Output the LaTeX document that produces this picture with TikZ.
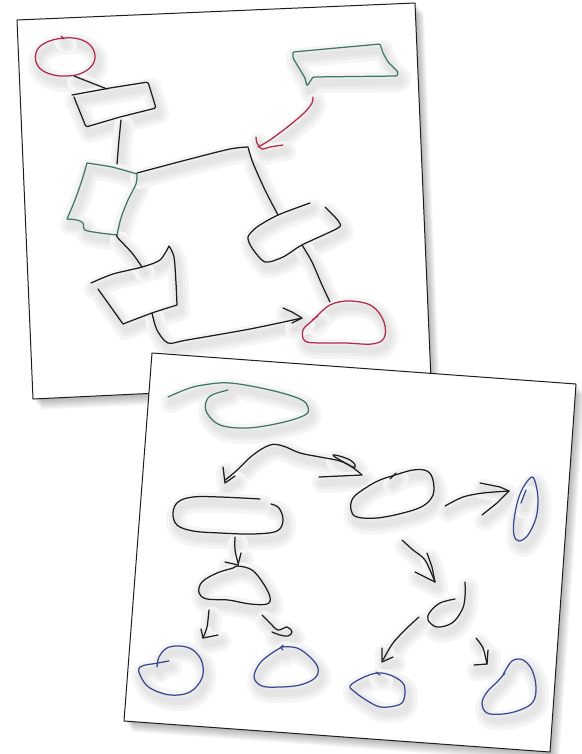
\documentclass[tikz,border=0pt]{standalone}
\definecolor{inkblack}{HTML}{1E1E1E}
\definecolor{inkred}{HTML}{B02A4C}
\definecolor{inkgreen}{HTML}{3D7A60}
\definecolor{inkblue}{HTML}{3A4A92}
\pgfdeclarelayer{sa}
\pgfdeclarelayer{sha}
\pgfdeclarelayer{inka}
\pgfdeclarelayer{sb}
\pgfdeclarelayer{shb}
\pgfsetlayers{sa,sha,inka,sb,shb,main}
\tikzset{
  ink/.style={line width=1.25pt, line cap=round, line join=round},
  bk/.style={ink,draw=inkblack},
  rd/.style={ink,draw=inkred},
  gr/.style={ink,draw=inkgreen},
  bl/.style={ink,draw=inkblue},
  shd/.style={line cap=round,line join=round},
  sheet/.style={fill=white,draw=inkblack,line width=1pt,line join=round},
  sheetshadow/.style={fill=black,opacity=0.035},
}
\newcommand\curshd{sha}
\newcommand\curink{inka}
\newcommand\skpath[2]{%
  \begin{pgfonlayer}{\curshd}
  \begin{scope}[shift={(3,6)}]
    \draw[shd,draw=black!4,line width=20pt] #2;
    \draw[shd,draw=black!7,line width=13pt] #2;
    \draw[shd,draw=black!10,line width=7pt] #2;
  \end{scope}
  \end{pgfonlayer}
  \begin{pgfonlayer}{\curink}
  \draw[#1] #2;
  \end{pgfonlayer}}
\begin{document}
\begin{tikzpicture}[x=1pt,y=-1pt]
\useasboundingbox (0,0) rectangle (581,754);
% ---------- sheet 1 ----------
\begin{pgfonlayer}{sa}
\foreach \k in {1,...,9}{
  \fill[sheetshadow,shift={(\k*1.0,\k*1.2)}] (17,20) -- (415,3) -- (431,380) -- (33,399) -- cycle;
}
\path[sheet] (17,20) -- (415,3) -- (431,380) -- (33,399) -- cycle;
\end{pgfonlayer}

% red ellipse
\skpath{rd}{plot[smooth cycle,tension=0.7] coordinates {(64,38)(82,40)(93,49)(94,62)(84,72)(68,76)(50,74)(38,66)(36,53)(45,43)}}
\skpath{rd}{(61,36) -- (64,39)}
\skpath{bk}{(74,76) -- (107,89)}
% rect 1
\skpath{bk,rounded corners=1.5pt}{(72,95) -- (110,88) -- (148,82) -- (152,95) -- (156,108) -- (120,117) -- (86,127) -- (80,112) -- (74,97)}
\skpath{bk}{plot[smooth] coordinates {(121,120)(119,140)(117,164)}}
% green shape
\skpath{gr}{plot[smooth,tension=0.4] coordinates {(87,163)(112,167)(137,174)}
  -- plot[smooth] coordinates {(137,174)(136,184)(128,200)(121,218)(117,235)}
  -- plot[smooth] coordinates {(117,235)(100,233)(85,230)(83,223)(77,220)(67,219)}
  -- plot[smooth] coordinates {(67,219)(75,200)(82,180)(87,163)}}
% connector to rounded rect
\skpath{bk}{plot[smooth] coordinates {(137,173)(190,159)(230,149)(248,147)}
  -- plot[smooth] coordinates {(248,147)(253,163)(265,190)(278,215)}}
% rounded rect
\skpath{bk}{plot[smooth,tension=0.45] coordinates {(310,203)(278,215)(257,227)(248,237)(252,248)(265,262)(283,257)(302,245)(338,228)(339,222)(333,215)(325,207)}}
\skpath{bk}{plot[smooth] coordinates {(302,245)(312,262)(322,285)(330,302)}}
% red blob
\skpath{rd}{plot[smooth cycle,tension=0.6] coordinates {(313,320)(330,305)(350,301)(372,306)(384,322)(384,338)(372,344)(345,343)(320,343)(305,341)(303,330)}}
\skpath{rd}{(312,320) -- (318,316)}
% rect 2
\skpath{bk}{plot[smooth] coordinates {(91,283)(113,274)(142,267)(160,260)(169,246)}
  -- plot[smooth] coordinates {(169,246)(174,257)(176,283)(177,305)}
  -- plot[smooth] coordinates {(177,305)(152,313)(123,324)} -- (98,289)}
\skpath{bk}{plot[smooth] coordinates {(117,235)(118,238)(132,253)(142,267)}}
% arrow to red blob
\skpath{bk}{plot[smooth] coordinates {(152,313)(157,330)(168,343)(187,340)(250,329)(302,318)}}
\skpath{bk}{(283,308) -- (292,312) -- (302,318) -- (292,323)}
% speech bubble
\skpath{gr,rounded corners=1pt}{(293,52) -- (380,44) -- (383,53) -- (388,62) -- (398,72) -- (397,76) -- (313,77) -- (307,86) -- (305,78) -- (293,58) -- cycle}
% red arrow
\skpath{rd}{plot[smooth] coordinates {(313,97)(312,103)(305,112)(290,125)(270,140)(258,147)}}
\skpath{rd}{plot[smooth,tension=0.4] coordinates {(256,137)(257,143)(262,149)(270,147)(283,145)}}

% ---------- sheet 2 ----------
\renewcommand\curshd{shb}
\renewcommand\curink{main}
\begin{pgfonlayer}{sb}
\foreach \k in {1,...,9}{
  \fill[sheetshadow,shift={(\k*1.0,\k*1.2)}] (152,353) -- (576,384) -- (550,752) -- (124,721) -- cycle;
}
\path[sheet] (152,353) -- (576,384) -- (550,752) -- (124,721) -- cycle;
\end{pgfonlayer}

% green swoosh
\skpath{gr}{plot[smooth,tension=0.6] coordinates {(168,397)(187,389)(203,385)(230,383)(270,390)(300,399)(308,407)(305,415)(280,423)(247,428)(220,425)(207,413)(206,402)(212,395)(228,390)}}
% double arrow
\skpath{bk}{plot[smooth,tension=0.6] coordinates {(225,480)(235,472)(253,455)(270,445)(283,446)(300,453)(320,457)(340,461)(352,467)(362,475)}}
\skpath{bk}{(223,467) -- (225,483) -- (235,476)}
\skpath{bk}{plot[smooth cycle,tension=0.8] coordinates {(333,455)(350,460)(355,467)(347,464)}}
\skpath{bk}{(319,477) -- (362,475)}
% ellipse 1
\skpath{bk}{plot[smooth,tension=0.6] coordinates {(260,499)(220,497)(193,497)(178,502)(173,513)(177,525)(193,531)(220,533)(253,534)(277,531)(283,520)(279,508)(271,504)}}
% ellipse 2
\skpath{bk}{plot[smooth cycle,tension=0.6] coordinates {(392,476)(413,470)(427,471)(433,480)(433,495)(423,506)(403,513)(377,518)(357,517)(351,510)(353,498)(367,487)(380,480)}}
\skpath{bk}{(390,479) -- (396,473)}
% arrow to blue oval
\skpath{bk}{plot[smooth] coordinates {(445,506)(463,497)(483,493)(509,491)}}
\skpath{bk}{(480,483) -- (500,487) -- (509,491) -- (497,503) -- (482,515)}
% blue oval
\skpath{bl}{plot[smooth cycle,tension=0.6] coordinates {(532,477)(536,485)(538,500)(536,518)(528,535)(519,541)(514,535)(514,520)(518,500)(524,486)}}
\skpath{bl}{(526,490) -- (521,503)}
% arrow down
\skpath{bk}{plot[smooth] coordinates {(402,540)(413,550)(425,560)(435,582)}}
\skpath{bk}{(427,553) -- (432,567) -- (435,582) -- (415,572)}
% J shape
\skpath{bk}{plot[smooth,tension=0.6] coordinates {(465,582)(465,597)(462,610)(452,623)(437,627)(428,620)(430,612)(440,603)(455,599)}}
% arrow J -> blue mid
\skpath{bk}{plot[smooth] coordinates {(419,617)(407,628)(393,643)(383,660)}}
\skpath{bk}{(382,648) -- (382,662) -- (393,657)}
% arrow J -> blue right
\skpath{bk}{plot[smooth] coordinates {(476,638)(483,648)(487,664)}}
\skpath{bk}{(474,665) -- (487,664) -- (488,650)}
% blue blob middle bottom
\skpath{bl}{plot[smooth cycle,tension=0.6] coordinates {(350,686)(362,678)(377,673)(390,675)(402,682)(405,690)(402,703)(388,707)(377,706)(363,698)(355,692)}}
\skpath{bl}{(376,672) -- (380,675)}
% blue blob right
\skpath{bl}{plot[smooth,tension=0.6] coordinates {(503,675)(512,661)(523,660)(532,670)(536,687)(533,702)(520,710)(503,714)(487,713)(482,703)(487,692)(497,682)(505,673)}}
% arrow from ellipse 1 down
\skpath{bk}{plot[smooth] coordinates {(235,537)(235,550)(238,563)}}
\skpath{bk}{(225,562) -- (238,565) -- (241,553)}
% triangle blob
\skpath{bk}{plot[smooth cycle,tension=0.6] coordinates {(238,566)(252,570)(263,583)(270,597)(267,604)(250,604)(228,600)(207,599)(199,593)(202,582)(217,573)(233,568)}}
% arrow left down
\skpath{bk}{plot[smooth] coordinates {(209,610)(207,627)(203,638)}}
\skpath{bk}{(201,629) -- (203,638) -- (218,635)}
% arrow right down with loop
\skpath{bk}{plot[smooth,tension=0.6] coordinates {(262,615)(270,623)(278,630)(287,627)(292,632)(288,636)(280,635)(272,632)}}
% blue blob left
\skpath{bl}{plot[smooth,tension=0.6] coordinates {(169,661)(158,663)(140,667)(141,677)(150,688)(170,695)(190,692)(202,678)(202,662)(193,650)(180,646)(167,648)(159,657)(157,667)}}
% blue blob mid
\skpath{bl}{plot[smooth,tension=0.6] coordinates {(283,650)(282,647)(297,648)(310,657)(318,668)(315,678)(300,685)(280,687)(262,686)(254,677)(260,663)(272,653)(280,648)(283,645)}}
\end{tikzpicture}
\end{document}
